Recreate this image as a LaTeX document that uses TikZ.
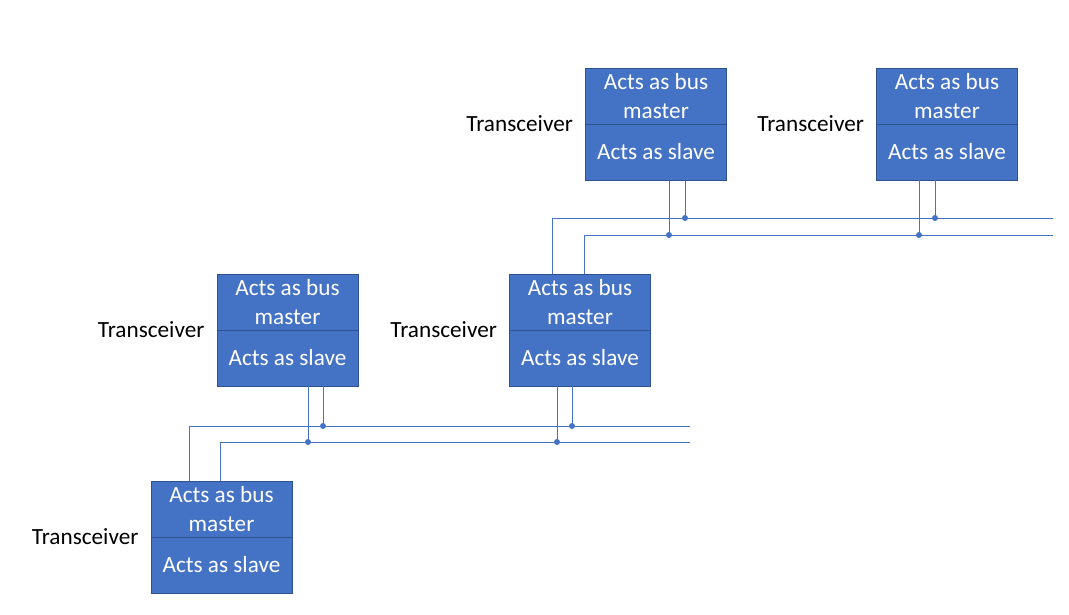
\documentclass[tikz,border=0pt]{standalone}
\usepackage{fontspec}
\setmainfont{Carlito}
\usetikzlibrary{calc}
\definecolor{boxblue}{HTML}{4472C4}
\definecolor{boxedge}{HTML}{2F528F}
\tikzset{
  tbox/.style={draw=boxedge, fill=boxblue, minimum width=141pt, minimum height=112pt, line width=0.8pt, inner sep=0pt},
  btext/.style={text=white, font=\fontsize{23.2}{29}\selectfont, align=center, inner sep=0pt},
  lbl/.style={font=\fontsize{23.2}{28}\selectfont, anchor=east, inner sep=0pt},
  bus/.style={draw=boxblue, line width=1pt},
  jdot/.style={circle, fill=boxblue, inner sep=0pt, minimum size=6pt}
}
\newcommand\trx[3]{%
  \node[tbox] (#1) at (#2,#3) {};
  \draw[draw=boxedge, line width=0.8pt] (#1.west) -- (#1.east);
  \node[btext] (#1m) at ($(#1.north)!0.5!(#1.center)$) {Acts as bus\\master};
  \node[btext] (#1s) at ([yshift=1pt]$(#1.south)!0.5!(#1.center)$) {Acts as slave};
  \node[lbl] (#1l) at ([xshift=-12pt]#1.west) {Transceiver};
}
\begin{document}
\begin{tikzpicture}[x=1pt,y=-1pt]
\useasboundingbox[fill=white] (0,0) rectangle (1069,614);
\trx{A}{221.5}{537}
\trx{B}{287.5}{330}
\trx{C}{580}{330}
\trx{D}{656}{124}
\trx{E}{947}{124}
% lower bus
\coordinate (L1a) at (189,426); \coordinate (L1b) at (690,426);
\coordinate (L2a) at (220,442); \coordinate (L2b) at (690,442);
\draw[bus] (A.north -| L1a) -- (L1a) -- (L1b);
\draw[bus] (A.north -| L2a) -- (L2a) -- (L2b);
\coordinate (jB1) at (308,442); \coordinate (jB2) at (323,426);
\coordinate (jC1) at (557,442); \coordinate (jC2) at (572,426);
\draw[bus] (B.south -| jB1) -- (jB1);
\draw[bus] (B.south -| jB2) -- (jB2);
\draw[bus] (C.south -| jC1) -- (jC1);
\draw[bus] (C.south -| jC2) -- (jC2);
\foreach \j in {jB1,jB2,jC1,jC2} \node[jdot] at (\j) {};
% upper bus
\coordinate (U1a) at (552,218); \coordinate (U1b) at (1053,218);
\coordinate (U2a) at (584,235); \coordinate (U2b) at (1053,235);
\draw[bus] (C.north -| U1a) -- (U1a) -- (U1b);
\draw[bus] (C.north -| U2a) -- (U2a) -- (U2b);
\coordinate (jD1) at (669,235); \coordinate (jD2) at (685,218);
\coordinate (jE1) at (919,235); \coordinate (jE2) at (935,218);
\draw[bus] (D.south -| jD1) -- (jD1);
\draw[bus] (D.south -| jD2) -- (jD2);
\draw[bus] (E.south -| jE1) -- (jE1);
\draw[bus] (E.south -| jE2) -- (jE2);
\foreach \j in {jD1,jD2,jE1,jE2} \node[jdot] at (\j) {};
\end{tikzpicture}
\end{document}
